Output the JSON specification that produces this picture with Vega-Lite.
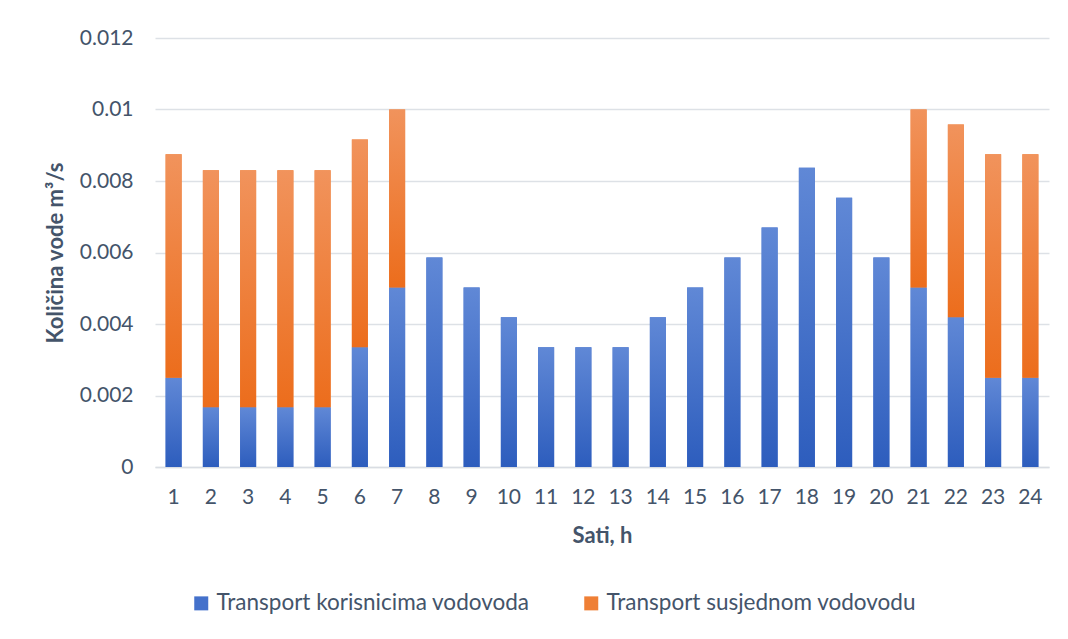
{
  "$schema": "https://vega.github.io/schema/vega-lite/v6.json",
  "autosize": "none",
  "width": 894,
  "height": 429,
  "padding": {"left": 155, "top": 38, "right": 19, "bottom": 172},
  "background": "white",
  "config": {
    "view": {"stroke": null},
    "font": "Lato",
    "axis": {"labelFont": "Lato", "titleFont": "Lato", "labelColor": "#44546a", "titleColor": "#44546a"},
    "legend": {"labelFont": "Lato"}
  },
  "data": {
    "values": [
      {"sat": 1, "serija": "Transport korisnicima vodovoda", "q": 0.0025},
      {"sat": 2, "serija": "Transport korisnicima vodovoda", "q": 0.00167},
      {"sat": 3, "serija": "Transport korisnicima vodovoda", "q": 0.00167},
      {"sat": 4, "serija": "Transport korisnicima vodovoda", "q": 0.00167},
      {"sat": 5, "serija": "Transport korisnicima vodovoda", "q": 0.00167},
      {"sat": 6, "serija": "Transport korisnicima vodovoda", "q": 0.00335},
      {"sat": 7, "serija": "Transport korisnicima vodovoda", "q": 0.00502},
      {"sat": 8, "serija": "Transport korisnicima vodovoda", "q": 0.00586},
      {"sat": 9, "serija": "Transport korisnicima vodovoda", "q": 0.00502},
      {"sat": 10, "serija": "Transport korisnicima vodovoda", "q": 0.00419},
      {"sat": 11, "serija": "Transport korisnicima vodovoda", "q": 0.00335},
      {"sat": 12, "serija": "Transport korisnicima vodovoda", "q": 0.00335},
      {"sat": 13, "serija": "Transport korisnicima vodovoda", "q": 0.00335},
      {"sat": 14, "serija": "Transport korisnicima vodovoda", "q": 0.00419},
      {"sat": 15, "serija": "Transport korisnicima vodovoda", "q": 0.00502},
      {"sat": 16, "serija": "Transport korisnicima vodovoda", "q": 0.00586},
      {"sat": 17, "serija": "Transport korisnicima vodovoda", "q": 0.0067},
      {"sat": 18, "serija": "Transport korisnicima vodovoda", "q": 0.00837},
      {"sat": 19, "serija": "Transport korisnicima vodovoda", "q": 0.00753},
      {"sat": 20, "serija": "Transport korisnicima vodovoda", "q": 0.00586},
      {"sat": 21, "serija": "Transport korisnicima vodovoda", "q": 0.00502},
      {"sat": 22, "serija": "Transport korisnicima vodovoda", "q": 0.00419},
      {"sat": 23, "serija": "Transport korisnicima vodovoda", "q": 0.0025},
      {"sat": 24, "serija": "Transport korisnicima vodovoda", "q": 0.0025},
      {"sat": 1, "serija": "Transport susjednom vodovodu", "q": 0.00625},
      {"sat": 2, "serija": "Transport susjednom vodovodu", "q": 0.00663},
      {"sat": 3, "serija": "Transport susjednom vodovodu", "q": 0.00663},
      {"sat": 4, "serija": "Transport susjednom vodovodu", "q": 0.00663},
      {"sat": 5, "serija": "Transport susjednom vodovodu", "q": 0.00663},
      {"sat": 6, "serija": "Transport susjednom vodovodu", "q": 0.00581},
      {"sat": 7, "serija": "Transport susjednom vodovodu", "q": 0.00498},
      {"sat": 21, "serija": "Transport susjednom vodovodu", "q": 0.00498},
      {"sat": 22, "serija": "Transport susjednom vodovodu", "q": 0.00539},
      {"sat": 23, "serija": "Transport susjednom vodovodu", "q": 0.00625},
      {"sat": 24, "serija": "Transport susjednom vodovodu", "q": 0.00625}
    ]
  },
  "transform": [
    {"stack": "q", "groupby": ["sat"], "sort": [{"field": "serija", "order": "ascending"}], "as": ["v0", "v1"]}
  ],
  "encoding": {
    "x": {
      "field": "sat",
      "type": "ordinal",
      "scale": {"paddingInner": 0.57, "paddingOuter": 0.285},
      "axis": {
        "title": "Sati, h",
        "labelAngle": 0,
        "labelFontSize": 21,
        "labelPadding": 19,
        "ticks": false,
        "domainColor": "#d9dde3",
        "domainWidth": 1.5,
        "titleFontSize": 22,
        "titleFontWeight": "bold",
        "titlePadding": 18
      }
    },
    "y": {
      "field": "v0",
      "type": "quantitative",
      "scale": {"domain": [0, 0.012], "nice": false},
      "axis": {
        "title": "Količina vode m³/s",
        "values": [0, 0.002, 0.004, 0.006, 0.008, 0.01, 0.012],
        "labelExpr": "datum.value == 0 ? '0' : format(datum.value, '~g')",
        "labelFontSize": 21,
        "labelPadding": 22,
        "ticks": false,
        "domain": false,
        "gridColor": "#dde1e6",
        "gridWidth": 1.5,
        "titleFontSize": 22,
        "titleFontWeight": "bold",
        "titlePadding": 12
      }
    },
    "y2": {"field": "v1"}
  },
  "layer": [
    {
      "mark": {"type": "bar"},
      "encoding": {
        "color": {
          "field": "serija",
          "type": "nominal",
          "scale": {
            "domain": ["Transport korisnicima vodovoda", "Transport susjednom vodovodu"],
            "range": ["#4471cb", "#ef7f35"]
          },
          "legend": {
            "title": null,
            "orient": "none",
            "direction": "horizontal",
            "legendX": 35,
            "legendY": 554,
            "symbolType": "square",
            "symbolSize": 196,
            "symbolStrokeWidth": 0,
            "labelFontSize": 22.5,
            "labelColor": "#44546a",
            "labelOffset": 4,
            "labelLimit": 500,
            "columnPadding": 50
          }
        }
      }
    },
    {
      "transform": [{"filter": "datum.serija == 'Transport korisnicima vodovoda'"}],
      "mark": {
        "type": "bar",
        "fill": {"gradient": "linear", "x1": 0, "y1": 0, "x2": 0, "y2": 1, "stops": [{"offset": 0, "color": "#6088d6"}, {"offset": 1, "color": "#2d5dbd"}]}
      }
    },
    {
      "transform": [{"filter": "datum.serija == 'Transport susjednom vodovodu'"}],
      "mark": {
        "type": "bar",
        "fill": {"gradient": "linear", "x1": 0, "y1": 0, "x2": 0, "y2": 1, "stops": [{"offset": 0, "color": "#f1935c"}, {"offset": 1, "color": "#ec6d1c"}]}
      }
    }
  ]
}
